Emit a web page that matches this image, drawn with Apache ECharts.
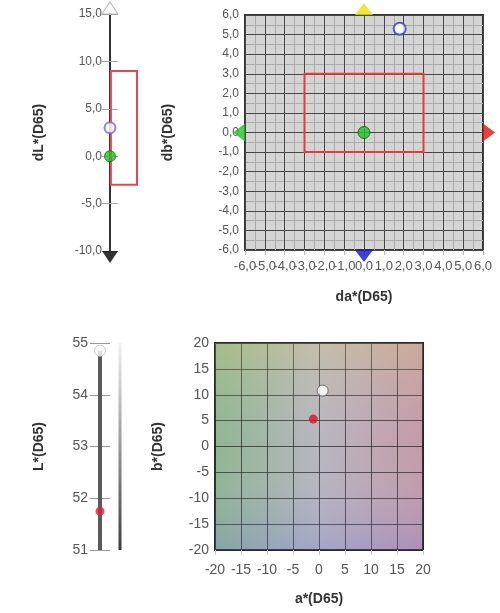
<!DOCTYPE html>
<html>
<head>
<meta charset="utf-8">
<script src="https://cdn.jsdelivr.net/npm/echarts@6/dist/echarts.min.js"></script>
<style>
  html, body { margin: 0; padding: 0; background: #fff; }
  #main { width: 500px; height: 613px; }
</style>
</head>
<body>
<div id="main"></div>
<script>
// dL* strip
var dLRange = [-10, 15];
var dLTolerance = [-3, 9];
var dLStandard = 0;
var dLSample = 3.0;
// da*/db* plane
var dabRange = [-6, 6];
var daTolerance = [-3, 3];
var dbTolerance = [-1, 3];
var dabStandard = [0, 0];
var dabSample = [1.8, 5.3];
// L* strip
var LRange = [51, 55];
var LStandard = 54.85;
var LSample = 51.75;
// a*/b* plane
var abRange = [-20, 20];
var abStandard = [0.7, 10.8];
var abSample = [-1.1, 5.3];

var comma1 = function (v) { return v.toFixed(1).replace('.', ','); };
// the da* labels are split over two axes so that none of them gets dropped
var oddLabel = function (v) { return Math.abs(v) % 2 === 1 ? comma1(v) : ''; };
var evenLabel = function (v) { return Math.abs(v) % 2 === 0 ? comma1(v) : ''; };
var labelStyle = { color: '#555', fontSize: 12, fontFamily: 'Liberation Sans, Arial, sans-serif' };
var nameStyle = { color: '#333', fontSize: 14, fontWeight: 'bold', fontFamily: 'Liberation Sans, Arial, sans-serif' };

var chart = echarts.init(document.getElementById('main'));

var option = {
    animation: false,
    grid: [
        { left: 110, top: 14, width: 30, height: 237 },
        {
            left: 245, top: 15, width: 238, height: 235,
            show: true, backgroundColor: '#d4d4d4', borderColor: '#333', borderWidth: 2
        },
        { left: 100, top: 343, width: 20, height: 207 },
        {
            left: 215, top: 343, width: 208, height: 207,
            show: true, borderColor: '#2a2a2a', borderWidth: 2,
            backgroundColor: {
                type: 'linear', x: 0, y: 0, x2: 1, y2: 0,
                colorStops: [
                    { offset: 0, color: '#8eb690' },
                    { offset: 0.5, color: '#b8b6c0' },
                    { offset: 1, color: '#c49aa8' }
                ]
            }
        }
    ],
    xAxis: [
        { gridIndex: 0, type: 'value', min: 0, max: 1, show: false },
        {
            // half-step grid lines + odd labels
            gridIndex: 1, type: 'value', min: dabRange[0], max: dabRange[1], interval: 0.5,
            position: 'bottom', z: 0,
            axisLine: { show: false, onZero: false },
            axisTick: { show: false },
            axisLabel: Object.assign({ formatter: oddLabel, margin: 10 }, labelStyle, { fontSize: 13 }),
            splitLine: { show: true, lineStyle: { color: '#ababab', width: 1 } }
        },
        {
            gridIndex: 1, type: 'value', min: dabRange[0], max: dabRange[1], interval: 1,
            position: 'bottom', z: 1,
            name: 'da*(D65)', nameLocation: 'middle', nameGap: 40, nameTextStyle: nameStyle,
            axisLine: { show: false, onZero: false },
            axisTick: { show: true, length: 5, lineStyle: { color: '#bbb' } },
            axisLabel: Object.assign({ formatter: evenLabel, margin: 10 }, labelStyle, { fontSize: 13 }),
            splitLine: { show: true, lineStyle: { color: '#474747', width: 1 } }
        },
        { gridIndex: 2, type: 'value', min: 0, max: 1, show: false },
        {
            gridIndex: 3, type: 'value', min: abRange[0], max: abRange[1], interval: 5,
            position: 'bottom',
            name: 'a*(D65)', nameLocation: 'middle', nameGap: 42, nameTextStyle: nameStyle,
            axisLine: { show: false, onZero: false },
            axisTick: { show: true, length: 5, lineStyle: { color: '#ccc' } },
            axisLabel: Object.assign({ margin: 13, showMinLabel: true, showMaxLabel: true }, labelStyle, { fontSize: 14 }),
            splitLine: { show: true, lineStyle: { color: 'rgba(40,40,40,0.75)', width: 1 } }
        }
    ],
    yAxis: [
        {
            gridIndex: 0, type: 'value', min: dLRange[0], max: dLRange[1], interval: 5,
            position: 'left',
            name: 'dL*(D65)', nameLocation: 'middle', nameGap: 64, nameTextStyle: nameStyle,
            axisLine: { show: true, onZero: false, lineStyle: { color: '#333', width: 2 } },
            axisTick: { show: true, length: 8, lineStyle: { color: '#aaa' } },
            axisLabel: Object.assign({ formatter: comma1, margin: 8 }, labelStyle),
            splitLine: { show: false }
        },
        {
            gridIndex: 0, type: 'value', min: dLRange[0], max: dLRange[1], interval: 5,
            position: 'left', offset: 0,
            axisLine: { show: false, onZero: false },
            axisTick: { show: true, inside: true, length: 8, lineStyle: { color: '#aaa' } },
            axisLabel: { show: false },
            splitLine: { show: false }
        },
        {
            gridIndex: 1, type: 'value', min: dabRange[0], max: dabRange[1], interval: 0.5,
            position: 'left', offset: 0, z: 0,
            axisLine: { show: false, onZero: false },
            axisTick: { show: false },
            axisLabel: { show: false },
            splitLine: { show: true, lineStyle: { color: '#ababab', width: 1 } }
        },
        {
            gridIndex: 1, type: 'value', min: dabRange[0], max: dabRange[1], interval: 1,
            position: 'left', offset: 0, z: 1,
            name: 'db*(D65)', nameLocation: 'middle', nameGap: 70, nameTextStyle: nameStyle,
            axisLine: { show: false, onZero: false },
            axisTick: { show: false },
            axisLabel: Object.assign({ formatter: comma1, margin: 6 }, labelStyle),
            splitLine: { show: true, lineStyle: { color: '#474747', width: 1 } }
        },
        {
            gridIndex: 2, type: 'value', min: LRange[0], max: LRange[1], interval: 1,
            position: 'left',
            name: 'L*(D65)', nameLocation: 'middle', nameGap: 54, nameTextStyle: nameStyle,
            axisLine: { show: false, onZero: false },
            axisTick: { show: true, length: 10, lineStyle: { color: '#999' } },
            axisLabel: Object.assign({ margin: 12 }, labelStyle, { fontSize: 14 }),
            splitLine: { show: false }
        },
        {
            gridIndex: 2, type: 'value', min: LRange[0], max: LRange[1], interval: 1,
            position: 'left', offset: 0,
            axisLine: { show: false, onZero: false },
            axisTick: { show: true, inside: true, length: 10, lineStyle: { color: '#999' } },
            axisLabel: { show: false },
            splitLine: { show: false }
        },
        {
            gridIndex: 3, type: 'value', min: abRange[0], max: abRange[1], interval: 5,
            position: 'left',
            name: 'b*(D65)', nameLocation: 'middle', nameGap: 50, nameTextStyle: nameStyle,
            axisLine: { show: false, onZero: false },
            axisTick: { show: false },
            axisLabel: Object.assign({ margin: 6 }, labelStyle, { fontSize: 14 }),
            splitLine: { show: true, lineStyle: { color: 'rgba(40,40,40,0.75)', width: 1 } }
        }
    ],
    series: [
        // dL* tolerance + end arrows
        {
            type: 'scatter', xAxisIndex: 0, yAxisIndex: 0, clip: false, z: 5,
            symbol: 'triangle', symbolSize: [16, 12], symbolOffset: [0, -6],
            itemStyle: { color: '#fff', borderColor: '#aaa', borderWidth: 1 },
            data: [[0, dLRange[1]]],
            markArea: {
                silent: true,
                itemStyle: { color: 'rgba(0,0,0,0)', borderColor: '#e8474f', borderWidth: 2 },
                data: [[{ coord: [0.03, dLTolerance[1]] }, { coord: [0.9, dLTolerance[0]] }]]
            }
        },
        {
            type: 'scatter', xAxisIndex: 0, yAxisIndex: 0, clip: false, z: 5,
            symbol: 'triangle', symbolRotate: 180, symbolSize: [16, 12], symbolOffset: [0, 6],
            itemStyle: { color: '#000' },
            data: [[0, dLRange[0]]]
        },
        {
            type: 'scatter', xAxisIndex: 0, yAxisIndex: 0, clip: false, z: 6,
            symbol: 'circle', symbolSize: 11,
            itemStyle: { color: '#fff', borderColor: '#6a6ad8', borderWidth: 2 },
            data: [[0, dLSample]]
        },
        {
            type: 'scatter', xAxisIndex: 0, yAxisIndex: 0, clip: false, z: 6,
            symbol: 'circle', symbolSize: 11,
            itemStyle: { color: '#22c022', borderColor: '#116611', borderWidth: 1 },
            data: [[0, dLStandard]]
        },
        // da*/db* plane
        {
            type: 'scatter', xAxisIndex: 2, yAxisIndex: 3, clip: false, z: 5,
            symbol: 'triangle', symbolSize: [18, 12], symbolOffset: [0, -6],
            itemStyle: { color: '#f0e000' },
            data: [[0, dabRange[1]]],
            markArea: {
                silent: true,
                itemStyle: { color: 'rgba(0,0,0,0)', borderColor: '#e8393f', borderWidth: 2 },
                data: [[{ coord: [daTolerance[0], dbTolerance[1]] }, { coord: [daTolerance[1], dbTolerance[0]] }]]
            }
        },
        {
            type: 'scatter', xAxisIndex: 2, yAxisIndex: 3, clip: false, z: 5,
            symbol: 'triangle', symbolRotate: 180, symbolSize: [18, 12], symbolOffset: [0, 6],
            itemStyle: { color: '#1010d0' },
            data: [[0, dabRange[0]]]
        },
        {
            type: 'scatter', xAxisIndex: 2, yAxisIndex: 3, clip: false, z: 5,
            symbol: 'triangle', symbolRotate: 90, symbolSize: [18, 12], symbolOffset: [-6, 0],
            itemStyle: { color: '#22c022' },
            data: [[dabRange[0], 0]]
        },
        {
            type: 'scatter', xAxisIndex: 2, yAxisIndex: 3, clip: false, z: 5,
            symbol: 'triangle', symbolRotate: -90, symbolSize: [18, 12], symbolOffset: [6, 0],
            itemStyle: { color: '#e01010' },
            data: [[dabRange[1], 0]]
        },
        {
            type: 'scatter', xAxisIndex: 2, yAxisIndex: 3, clip: false, z: 6,
            symbol: 'circle', symbolSize: 12,
            itemStyle: { color: '#fff', borderColor: '#3838c8', borderWidth: 2 },
            data: [dabSample]
        },
        {
            type: 'scatter', xAxisIndex: 2, yAxisIndex: 3, clip: false, z: 6,
            symbol: 'circle', symbolSize: 12,
            itemStyle: { color: '#22c022', borderColor: '#115511', borderWidth: 1 },
            data: [dabStandard]
        },
        // L* strip
        {
            type: 'line', xAxisIndex: 3, yAxisIndex: 4, symbol: 'none', z: 3,
            lineStyle: { color: '#5a5a5a', width: 4 },
            data: [[0, LRange[0]], [0, LStandard]]
        },
        {
            type: 'line', xAxisIndex: 3, yAxisIndex: 4, symbol: 'none', z: 3,
            lineStyle: {
                width: 3,
                color: {
                    type: 'linear', x: 0, y: 0, x2: 0, y2: 1,
                    colorStops: [
                        { offset: 0, color: '#f4f4f4' },
                        { offset: 1, color: '#3a3a3a' }
                    ]
                }
            },
            data: [[1, LRange[0]], [1, LRange[1]]]
        },
        {
            type: 'scatter', xAxisIndex: 3, yAxisIndex: 4, clip: false, z: 6,
            symbol: 'circle', symbolSize: 11,
            itemStyle: { color: '#fff', borderColor: '#bbb', borderWidth: 1 },
            data: [[0, LStandard]]
        },
        {
            type: 'scatter', xAxisIndex: 3, yAxisIndex: 4, clip: false, z: 6,
            symbol: 'circle', symbolSize: 9,
            itemStyle: { color: '#e0203a' },
            data: [[0, LSample]]
        },
        // a*/b* plane
        {
            type: 'scatter', xAxisIndex: 4, yAxisIndex: 6, clip: false, z: 6,
            symbol: 'circle', symbolSize: 11,
            itemStyle: { color: '#fff', borderColor: '#555', borderWidth: 1 },
            data: [abStandard],
            markArea: {
                silent: true, z: 1,
                itemStyle: {
                    color: {
                        type: 'linear', x: 0, y: 0, x2: 0, y2: 1,
                        colorStops: [
                            { offset: 0, color: 'rgba(235,215,100,0.24)' },
                            { offset: 0.5, color: 'rgba(200,200,200,0)' },
                            { offset: 1, color: 'rgba(100,110,230,0.24)' }
                        ]
                    }
                },
                data: [[{ coord: [abRange[0], abRange[1]] }, { coord: [abRange[1], abRange[0]] }]]
            }
        },
        {
            type: 'scatter', xAxisIndex: 4, yAxisIndex: 6, clip: false, z: 6,
            symbol: 'circle', symbolSize: 9,
            itemStyle: { color: '#e01020' },
            data: [abSample]
        }
    ]
};

chart.setOption(option);
</script>
</body>
</html>
